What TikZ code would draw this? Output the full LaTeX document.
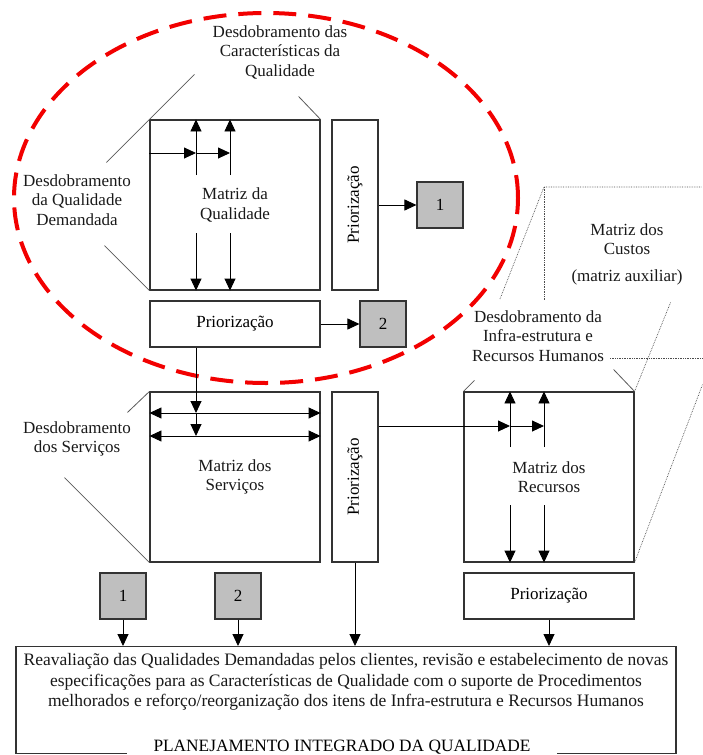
\documentclass[tikz,border=0pt]{standalone}
\usepackage{fontspec}
\setmainfont{Liberation Serif}
\usetikzlibrary{arrows.meta}

\begin{document}
\begin{tikzpicture}[x=1pt, y=-1pt,
  font=\fontsize{17}{19.5}\selectfont,
  caixa/.style={draw=black!80, line width=1.1pt, fill=white, inner sep=0pt},
  cinza/.style={caixa, fill=black!25, minimum width=46, minimum height=46},
  rotulo/.style={align=center, inner sep=0pt, text=black!90},
  seta/.style={-{Triangle[length=12pt,width=11pt]}, line width=0.9pt},
  setadupla/.style={{Triangle[length=12pt,width=11pt]}-{Triangle[length=12pt,width=11pt]}, line width=0.9pt},
  fio/.style={draw=black!65, line width=0.8pt},
  pontos/.style={draw=black!70, line width=0.7pt, densely dotted},
  elipse/.style={draw=red!95!black, line width=4pt, dash pattern=on 23pt off 12pt}]
  \useasboundingbox (0,0) rectangle (702,755);

  % contorno vermelho da casa da qualidade
  \draw[elipse] (266,198) ellipse [x radius=252pt, y radius=185pt];

  % matrizes e caixas de priorizacao
  \node[caixa, minimum width=170, minimum height=170, rotulo] (mqual) at (235,205) {Matriz da\\Qualidade};
  \node[caixa, minimum width=46, minimum height=170] (prioq) at (355,205) {\rotatebox{90}{Priorização}};
  \node[cinza] (um1) at (440,205) {1};
  \node[caixa, minimum width=170, minimum height=46] (prioh) at (235,324) {Priorização};
  \node[cinza] (dois1) at (383,324) {2};
  \node[caixa, minimum width=170, minimum height=170, rotulo] (mserv) at (235,477) {Matriz dos\\Serviços};
  \node[caixa, minimum width=46, minimum height=170] (priosv) at (355,477) {\rotatebox{90}{Priorização}};
  \node[caixa, minimum width=170, minimum height=170, rotulo] (mrec) at (549,477) {Matriz dos\\Recursos};
  \node[caixa, minimum width=170, minimum height=46] (priorec) at (549,596) {Priorização};
  \node[cinza] (um2) at (123,596) {1};
  \node[cinza] (dois2) at (238,596) {2};

  % caixa final
  \node[caixa, minimum width=660, minimum height=107, anchor=north] (planej) at (346,646) {};
  \node[rotulo, font=\fontsize{17.5}{20.5}\selectfont] (texto) at (346,682)
    {Reavaliação das Qualidades Demandadas pelos clientes, revisão e estabelecimento de novas\\
     especificações para as Características de Qualidade com o suporte de Procedimentos\\
     melhorados e reforço/reorganização dos itens de Infra-estrutura e Recursos Humanos};
  \node[fill=white, inner xsep=27pt, inner ysep=2pt, anchor=base, font=\fontsize{17.3}{19.5}\selectfont]
    (titulo) at (342,751) {PLANEJAMENTO INTEGRADO DA QUALIDADE};

  % rotulos dos desdobramentos
  \node[rotulo] (ldq) at (280,52) {Desdobramento das\\Características da\\Qualidade};
  \node[rotulo] (lqd) at (77,200) {Desdobramento\\da Qualidade\\Demandada};
  \node[rotulo] (lsv) at (77,439) {Desdobramento\\dos Serviços};
  \node[rotulo] (linfra) at (538,336) {Desdobramento da\\Infra-estrutura e\\Recursos Humanos};
  \node[rotulo] (lcustos) at (627,254) {Matriz dos\\Custos\\[7pt](matriz auxiliar)};

  % linhas de perspectiva
  \draw[fio] (mqual.north west) ++(45,-45) -- ++(-88,88);
  \draw[fio] (mqual.north east) -- ++(-22,-23);
  \draw[fio] (mqual.south west) -- ++(-45,-45);
  \draw[fio] (mserv.north west) -- ++(-22,21);
  \draw[fio] (mserv.south west) -- ++(-85,-85);
  \draw[fio] (mrec.north west) -- ++(11,-11);
  \draw[fio] (mrec.north east) -- ++(-21,-22);

  % matriz dos custos (pontilhada)
  \coordinate (ct) at (544,187);
  \draw[pontos] (500,299) -- (ct) -- (702,187);
  \draw[pontos] (ct) -- (544,300);
  \draw[pontos] (linfra.east |- 0,358) ++(6,0) -- (702,358);
  \draw[pontos] (mrec.north east) -- ++(36,-89);
  \draw[pontos] (mrec.south east) -- ++(68,-178);

  % setas da matriz da qualidade
  \coordinate (qa) at (196,175);
  \coordinate (qb) at (230,175);
  \coordinate (qc) at (196,233);
  \coordinate (qd) at (230,233);
  \coordinate (qh) at (0,153);
  \draw[seta] (qa) -- (qa |- mqual.north);
  \draw[seta] (qb) -- (qb |- mqual.north);
  \draw[seta] (qc) -- (qc |- mqual.south);
  \draw[seta] (qd) -- (qd |- mqual.south);
  \draw[seta] (mqual.west |- qh) -- (qa |- qh);
  \draw[seta] (qa |- qh) -- (qb |- qh);
  \draw[seta] (prioq.east) -- (um1.west);
  \draw[seta] (prioh.east) -- (dois1.west);

  % setas da matriz dos servicos
  \coordinate (sa) at (196,413);
  \coordinate (sb) at (196,436);
  \draw[seta] (prioh.south -| sa) -- (sa);
  \draw[seta] (sa) -- (sb);
  \draw[setadupla] (mserv.west |- sa) -- (mserv.east |- sa);
  \draw[setadupla] (mserv.west |- sb) -- (mserv.east |- sb);

  % setas da matriz dos recursos
  \coordinate (ra) at (510,426);
  \coordinate (rb) at (544,426);
  \coordinate (rc) at (510,447);
  \coordinate (rd) at (544,447);
  \coordinate (re) at (510,505);
  \coordinate (rf) at (544,505);
  \draw[seta] (priosv.east |- ra) -- (ra);
  \draw[seta] (ra) -- (rb);
  \draw[seta] (rc) -- (rc |- mrec.north);
  \draw[seta] (rd) -- (rd |- mrec.north);
  \draw[seta] (re) -- (re |- mrec.south);
  \draw[seta] (rf) -- (rf |- mrec.south);

  % entradas do planejamento
  \draw[seta] (um2.south) -- (um2.south |- planej.north);
  \draw[seta] (dois2.south) -- (dois2.south |- planej.north);
  \draw[seta] (priosv.south) -- (priosv.south |- planej.north);
  \draw[seta] (priorec.south) -- (priorec.south |- planej.north);
\end{tikzpicture}
\end{document}
